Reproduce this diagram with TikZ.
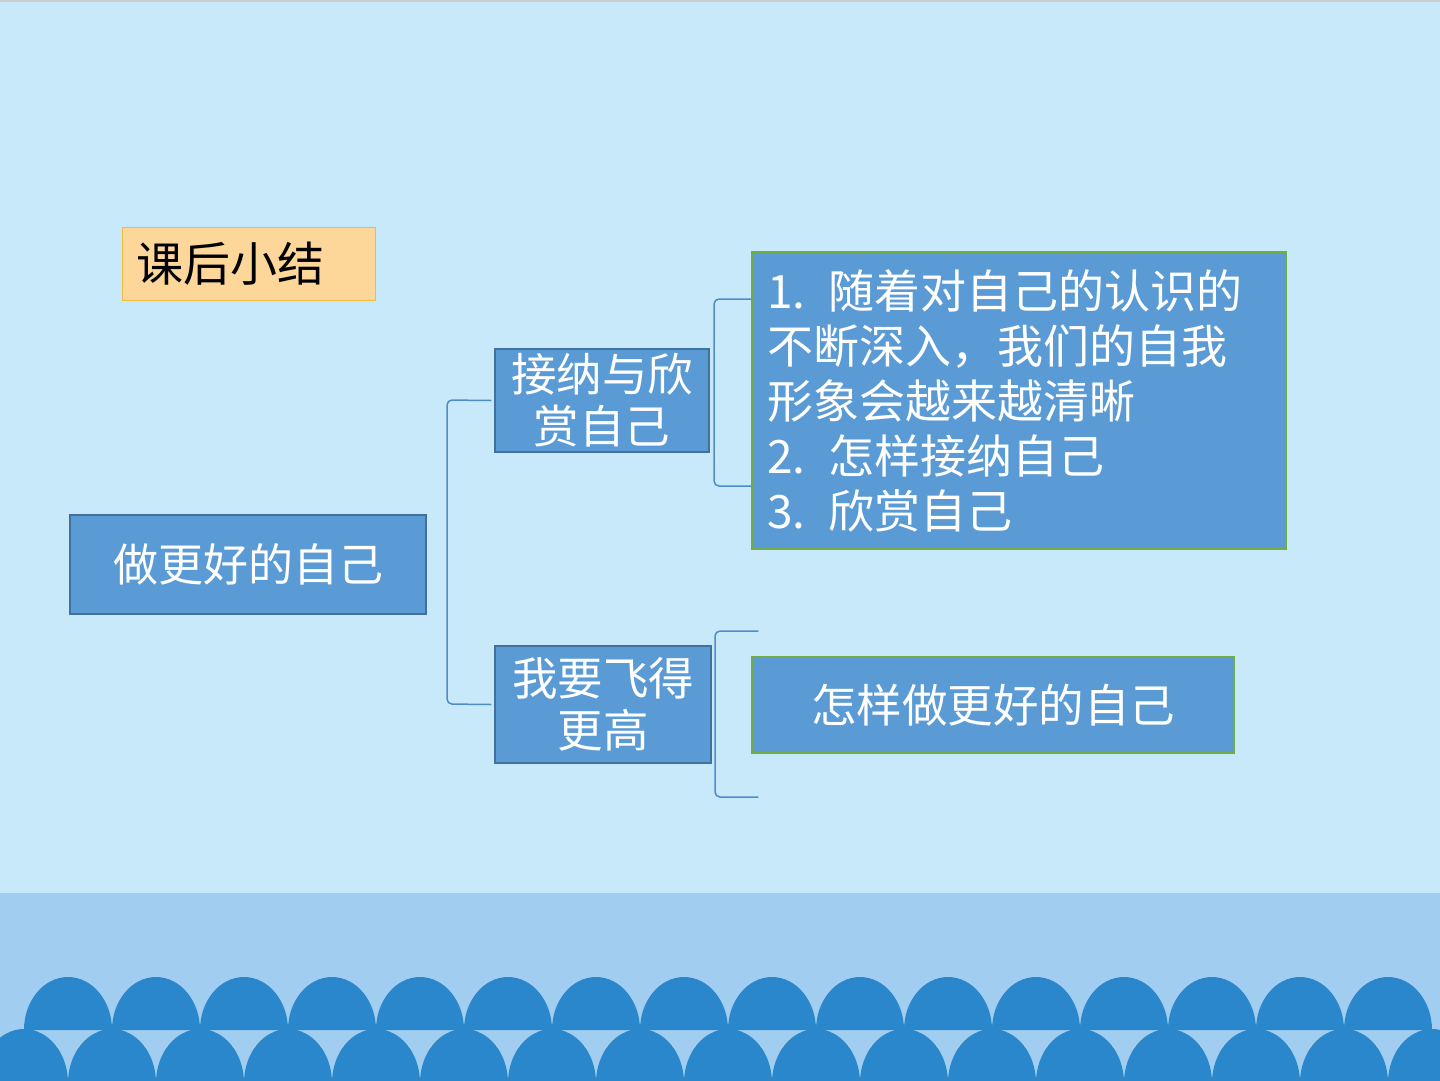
\documentclass[tikz,border=0pt]{standalone}
\usepackage{fontspec}
\setmainfont{Noto Sans CJK SC}
\definecolor{bgc}{RGB}{200,233,250}
\definecolor{bandc}{RGB}{160,205,240}
\definecolor{domec}{RGB}{42,135,204}
\definecolor{boxf}{RGB}{91,155,213}
\definecolor{boxd}{RGB}{65,113,156}
\definecolor{grn}{RGB}{112,173,71}
\definecolor{titf}{RGB}{253,214,153}
\definecolor{titd}{RGB}{240,190,60}
\definecolor{brc}{RGB}{80,140,200}
\begin{document}
\begin{tikzpicture}[x=1pt,y=-1pt,
  bluebox/.style={draw=boxd,fill=boxf,line width=1.5pt,text=white,inner sep=0pt,align=center},
  greenbox/.style={draw=grn,fill=boxf,line width=1.5pt,text=white,inner sep=0pt},
  brace/.style={draw=brc,line width=1.5pt,rounded corners=5pt}]
\useasboundingbox (0,0) rectangle (1440,1080);
\fill[bgc] (0,0) rectangle (1440,1080);
\fill[gray!40] (0,0) rectangle (1440,2);
\fill[bandc] (0,893) rectangle (1440,1080);
% domes
\foreach \i in {0,...,16}{
  \fill[domec] ({24+88*\i-44},1083) arc[start angle=180,end angle=0,x radius=44,y radius=-54];
}
\foreach \i in {0,...,15}{
  \fill[domec] ({68+88*\i-44},1030) arc[start angle=180,end angle=0,x radius=44,y radius=-53];
}
% nodes
\node[draw=titd,fill=titf,line width=1pt,minimum width=253pt,minimum height=73pt,inner sep=0pt,
  font=\fontsize{47}{52}\selectfont,text width=225pt,align=left] (title) at (248.5,264) {课后小结};
\node[bluebox,minimum width=356pt,minimum height=99pt,font=\fontsize{45}{52}\selectfont] (root) at (248,564.5) {做更好的自己};
\node[bluebox,minimum width=214pt,minimum height=103pt,font=\fontsize{45.5}{52}\selectfont] (a1) at (602,400.5) {接纳与欣\\赏自己};
\node[bluebox,minimum width=216pt,minimum height=117pt,font=\fontsize{45.5}{52}\selectfont] (a2) at (603,704.5) {我要飞得\\更高};
\node[greenbox,minimum width=534pt,minimum height=297pt,text width=504pt,align=left,
  font=\fontsize{46}{55}\selectfont] (b1) at (1019,400.5) {1. 随着对自己的认识的\\不断深入，我们的自我\\形象会越来越清晰\\2. 怎样接纳自己\\3. 欣赏自己};
\node[greenbox,minimum width=482pt,minimum height=96pt,font=\fontsize{45.5}{52}\selectfont] (b2) at (993,705) {怎样做更好的自己};
% braces
\coordinate (r1) at (447,400);
\coordinate (r2) at (447,704);
\draw[brace] ([xshift=-3pt]a1.west) -- (r1) -- (r2) -- ([xshift=-3pt]a2.west);
\coordinate (s1) at (714,299);
\coordinate (s2) at (714,486);
\draw[brace] ([yshift=101.5pt]b1.west) -- (s1) -- (s2) -- ([yshift=-85.5pt]b1.west);
\coordinate (t1) at (715,631);
\coordinate (t2) at (715,797);
\draw[brace] ([xshift=7pt,yshift=74pt]b2.west) -- (t1) -- (t2) -- ([xshift=7pt,yshift=-92pt]b2.west);
\end{tikzpicture}
\end{document}
